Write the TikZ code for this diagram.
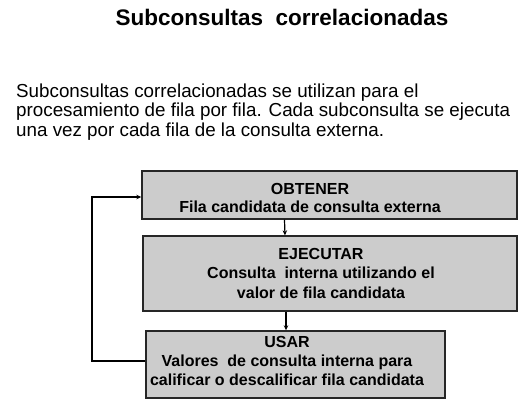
\documentclass[tikz,border=0pt]{standalone}
\usepackage{fontspec}
\setmainfont{Liberation Sans}
\usetikzlibrary{arrows.meta,calc}
\tikzset{
	stepbox/.style={draw=black!85, line width=1.4pt, fill=black!20, inner sep=0pt},
	boxtext/.style={anchor=base, align=center, inner sep=0pt, font=\bfseries\fontsize{16}{19}\selectfont},
	arr/.style={line width=1.2pt, -{Stealth[length=5pt,width=4.5pt]}}
}

\begin{document}
\begin{tikzpicture}[x=1pt, y=-1pt]
			%%%%% START %%%%%
			\useasboundingbox (0, 0) rectangle (528, 407);
			
			\node[anchor=base, inner sep=0pt, font=\bfseries\fontsize{22.5}{25}\selectfont] (title) at (282, 25) {Subconsultas\ \ correlacionadas};
			\node[anchor=base west, align=left, inner sep=0pt, font=\fontsize{18.8}{19.5}\selectfont] (intro) at (16, 136) {Subconsultas correlacionadas se utilizan para el\\procesamiento de fila por fila. Cada subconsulta se ejecuta\\una vez por cada fila de la consulta externa.};
			
			\node[stepbox, minimum width=375pt, minimum height=48pt] (obtener) at (329.5, 195) {};
			\node[boxtext, font=\bfseries\fontsize{16}{18}\selectfont] (obtenertext) at (310, 212) {OBTENER\\Fila candidata de consulta externa};
			
			\node[stepbox, minimum width=374pt, minimum height=75pt] (ejecutar) at (330, 273.5) {};
			\node[boxtext, font=\bfseries\fontsize{16}{19.5}\selectfont] (ejecutartext) at (321, 298) {EJECUTAR\\Consulta\ \ interna utilizando el\\valor de fila candidata};
			
			\node[stepbox, minimum width=299pt, minimum height=67pt] (usar) at (295.5, 364.5) {};
			\node[boxtext] (usartext) at (287, 385) {USAR\\Valores\ \ de consulta interna para\\calificar o descalificar fila candidata};
			
			\draw[arr] ([xshift=-45pt]obtener.south) -- ([xshift=-45pt]ejecutar.north);
			\draw[arr] ([xshift=-44pt]ejecutar.south) -- ([xshift=-9.5pt]usar.north);
			
			\coordinate (back) at (92, 0);
			\coordinate (entry) at ([yshift=-2pt]obtener.west);
			\draw[arr] ([yshift=3.5pt]usar.west) -| (back |- entry) -- (entry);
			
			%%%%% END %%%%%
\end{tikzpicture}
\end{document}
